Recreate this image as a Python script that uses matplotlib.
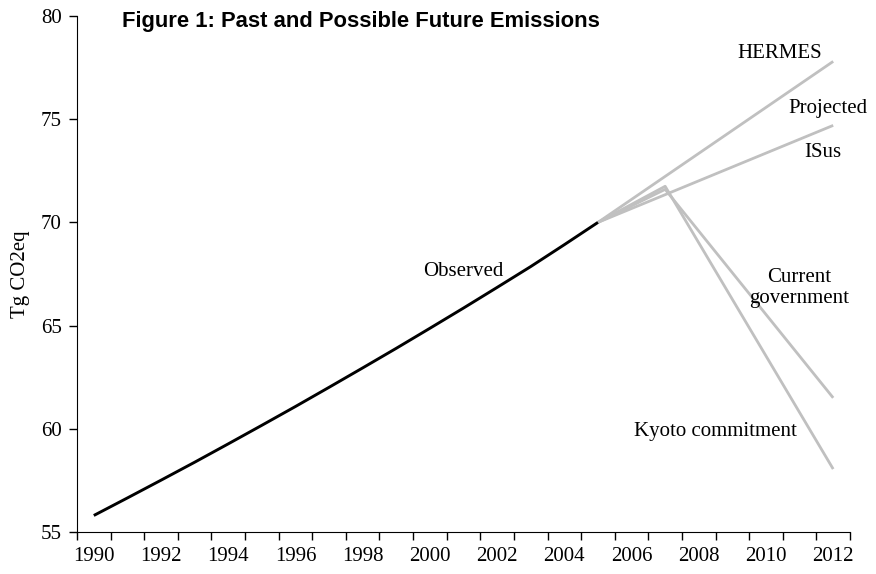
import numpy as np
import matplotlib
matplotlib.use("Agg")
import matplotlib.pyplot as plt

# *** data ***
obs_years = list(range(1990, 2006))
obs_values = [55.8, 56.65, 57.51, 58.38, 59.27, 60.17, 61.08, 62.01,
              62.95, 63.90, 64.87, 65.85, 66.85, 67.86, 68.92, 70.0]

hermes_years = [2005, 2012]
hermes_values = [70.0, 77.8]

projected_years = [2005, 2012]
projected_values = [70.0, 74.7]

gov_years = [2005, 2007, 2012]
gov_values = [70.0, 71.6, 61.5]

kyoto_years = [2005, 2007, 2012]
kyoto_values = [70.0, 71.75, 58.05]

tick_years = list(range(1990, 2013, 2))
y_ticks = [55, 60, 65, 70, 75, 80]

serif = "Liberation Serif"
grey = "#c0c0c0"
fs = 15

fig = plt.figure(figsize=(8.76, 5.74), dpi=100)
ax = fig.add_axes([77 / 876, 42 / 574, 773 / 876, 516 / 574])

# grey scenario lines first, observed on top
for xs, ys in [(hermes_years, hermes_values), (projected_years, projected_values),
               (gov_years, gov_values), (kyoto_years, kyoto_values)]:
    ax.plot(xs, ys, color=grey, lw=2.0, solid_capstyle="butt")
ax.plot(obs_years, obs_values, color="black", lw=2.1, solid_capstyle="butt")

# *** axes like an Excel category axis ***
ax.set_xlim(1989.5, 2012.5)
ax.set_ylim(55, 80)
ax.spines["top"].set_visible(False)
ax.spines["right"].set_visible(False)

ax.set_xticks(tick_years)
ax.set_xticklabels([str(y) for y in tick_years], fontfamily=serif, fontsize=fs)
ax.set_xticks(np.arange(1989.5, 2013, 1.0), minor=True)
ax.tick_params(axis="x", which="major", length=0, pad=11)
ax.tick_params(axis="x", which="minor", length=6, direction="out", width=1)

ax.set_yticks(y_ticks)
ax.set_yticklabels([str(v) for v in y_ticks], fontfamily=serif, fontsize=fs)
ax.tick_params(axis="y", length=6, direction="out", width=1, pad=5)
ax.set_ylabel("Tg CO2eq", fontfamily=serif, fontsize=fs, labelpad=8)

# *** text labels ***
ax.text(2001.0, 67.6, "Observed", fontfamily=serif, fontsize=fs, ha="center", va="center")
ax.text(2010.4, 78.2, "HERMES", fontfamily=serif, fontsize=fs, ha="center", va="center")
ax.text(2011.85, 75.5, "Projected", fontfamily=serif, fontsize=fs, ha="center", va="center")
ax.text(2011.7, 73.4, "ISus", fontfamily=serif, fontsize=fs, ha="center", va="center")
ax.text(2011.0, 66.8, "Current\ngovernment", fontfamily=serif, fontsize=fs,
        ha="center", va="center", linespacing=1.15)
ax.text(2008.5, 59.85, "Kyoto commitment", fontfamily=serif, fontsize=fs,
        ha="center", va="center")

fig.text(122 / 876, 1 - 21 / 574, "Figure 1: Past and Possible Future Emissions",
         fontfamily="Liberation Sans", fontweight="bold", fontsize=15.8,
         ha="left", va="center")

fig.savefig("out.png", dpi=100)
